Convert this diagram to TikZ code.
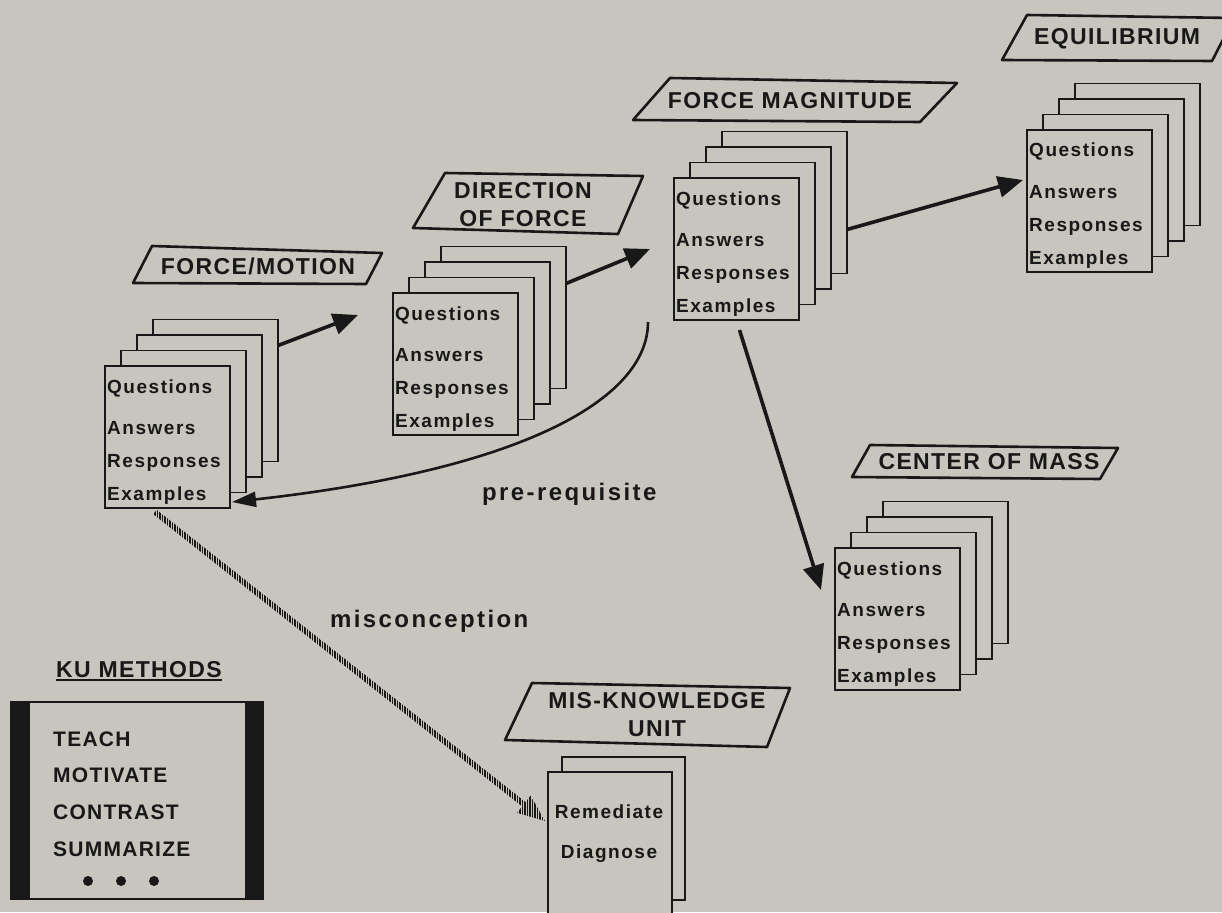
\documentclass[tikz,border=0pt]{standalone}
\usepackage{fontspec}
\setmainfont{Liberation Sans}
\usetikzlibrary{arrows.meta,calc,patterns.meta}
\definecolor{bg}{RGB}{199,197,189}
\definecolor{ink}{RGB}{24,24,24}
\newcommand\cardfont{\bfseries\fontsize{19}{22}\selectfont\addfontfeature{LetterSpace=8}}
\newcommand\labfont{\bfseries\fontsize{23}{30}\selectfont\addfontfeature{LetterSpace=6}}
\newcommand\kufont{\bfseries\fontsize{21}{26}\selectfont\addfontfeature{LetterSpace=6}}
\newcommand\relfont{\bfseries\fontsize{24}{28}\selectfont\addfontfeature{LetterSpace=10}}
\newcommand\kustack[3]{%
  \foreach \k in {3,2,1,0}{\node[card,anchor=north west] (#1-\k) at ({#2+16*\k},{#3-15.5*\k}) {};}
  \node[cardtext] (#1-q) at ({#2+2},{#3+27}) {Questions};
  \node[cardtext] (#1-a) at ({#2+2},{#3+68}) {Answers};
  \node[cardtext] (#1-r) at ({#2+2},{#3+101}) {Responses};
  \node[cardtext] (#1-e) at ({#2+2},{#3+134}) {Examples};
}
\begin{document}
\begin{tikzpicture}[x=1pt,y=-1pt,
  card/.style={draw=ink,fill=bg,line width=1.9pt,minimum width=125pt,minimum height=142pt,inner sep=0pt,outer sep=0pt},
  cardtext/.style={anchor=base west,inner sep=0pt,text=ink,font=\cardfont},
  lab/.style={draw=ink,line width=2.6pt,line join=round},
  labtext/.style={inner sep=0pt,text=ink,font=\labfont,align=center},
  kutext/.style={anchor=base west,inner sep=0pt,text=ink,font=\kufont},
  reltext/.style={anchor=base west,inner sep=0pt,text=ink,font=\relfont},
  arr/.style={draw=ink,line width=3.6pt,-{Triangle[length=25pt,width=21pt]}},
  arrc/.style={draw=ink,line width=2.6pt,-{Triangle[length=24pt,width=15pt]}},
  dot/.style={circle,fill=ink,inner sep=0pt,minimum size=10pt},
  hatch/.style={pattern={Lines[angle=90,distance=2.5pt,line width=1.4pt]},pattern color=ink}
]
\useasboundingbox (0,0) rectangle (1222,912);
\clip (0,0) rectangle (1222,912);
\fill[bg] (0,0) rectangle (1222,912);

% ---------- card stacks ----------
\kustack{fm}{105}{366}
\kustack{df}{393}{293}
\kustack{mg}{674}{178}
\kustack{eq}{1027}{130}
\kustack{cm}{835}{548}

% mis-knowledge unit cards
\node[card,anchor=north west,minimum width=123pt,minimum height=143pt] (mk-1) at (562,757) {};
\node[card,anchor=north west,minimum width=124pt,minimum height=170pt] (mk-0) at (548,772) {};
\node[anchor=base,inner sep=0pt,text=ink,font=\cardfont] (mk-r) at (609,818) {Remediate};
\node[anchor=base,inner sep=0pt,text=ink,font=\cardfont] (mk-d) at (609,858) {Diagnose};

% ---------- labels ----------
\draw[lab] (152,246) -- (382,253) -- (366,284) -- (133,283) -- cycle;
\node[labtext] (l-fm) at (258,266) {FORCE/MOTION};
\draw[lab] (445,173) -- (643,176) -- (618,234) -- (413,228) -- cycle;
\node[labtext] (l-df) at (523,205) {DIRECTION\\[-2pt]OF FORCE};
\draw[lab] (670,78) -- (957,83) -- (920,122) -- (633,120) -- cycle;
\node[labtext] (l-mg) at (790,101) {FORCE MAGNITUDE};
\draw[lab] (1027,15) -- (1234,18) -- (1212,61) -- (1002,60) -- cycle;
\node[labtext] (l-eq) at (1117,39) {EQUILIBRIUM};
\draw[lab] (870,445) -- (1118,448) -- (1100,479) -- (852,477) -- cycle;
\node[labtext] (l-cm) at (989,462) {CENTER OF MASS};
\draw[lab] (532,683) -- (790,688) -- (767,747) -- (505,740) -- cycle;
\node[labtext] (l-mk) at (657,715) {MIS-KNOWLEDGE\\[-2pt]UNIT};

% ---------- connectors ----------
\coordinate (t1) at (358,315);
\draw[arr] ($(fm-3.north east)+(0,26)$) -- (t1);
\coordinate (t2) at (650,249);
\draw[arr] ($(df-3.north east)+(0,37)$) -- (t2);
\coordinate (t3) at (1023,180);
\draw[arr] ($(mg-3.north east)+(0,98)$) -- (t3);
\coordinate (t4) at (821,590);
\draw[arr] ($(mg-0.south)+(3,10)$) -- (t4);

\coordinate (ps) at (648,322);
\draw[arrc] (ps) .. controls (648,400) and (520,470) .. ($(fm-0.south east)+(2,-6)$);
\node[reltext] (pre) at (482,500) {pre-requisite};

% misconception hatched connector
\coordinate (ms) at ($(fm-0.south west)+(50,4)$);
\coordinate (me) at ($(mk-0.north west)+(-3,49)$);
\coordinate (mb) at ($(me)!27pt!(ms)$);
\fill[hatch] ($(ms)!2.8pt!90:(mb)$) -- ($(mb)!2.8pt!-90:(ms)$) -- ($(mb)!2.8pt!90:(ms)$) -- ($(ms)!2.8pt!-90:(mb)$) -- cycle;
\fill[hatch] (me) -- ($(mb)!11pt!90:(me)$) -- ($(mb)!11pt!-90:(me)$) -- cycle;
\node[reltext] (mis) at (330,627) {misconception};

% ---------- KU methods ----------
\node[anchor=base,inner sep=0pt,text=ink,font=\labfont] (kut) at (139,677) {KU METHODS};
\draw[ink,line width=1.8pt] ($(kut.base west)+(0,3)$) -- ($(kut.base east)+(0,3)$);
\node[draw=ink,line width=2pt,minimum width=252pt,minimum height=197pt,inner sep=0pt,anchor=north west] (kubox) at (10,701) {};
\fill[ink] (kubox.north west) rectangle ($(kubox.south west)+(20,0)$);
\fill[ink] ($(kubox.north east)+(-19,0)$) rectangle (kubox.south east);
\node[kutext] (m1) at (53,746) {TEACH};
\node[kutext] (m2) at (53,782) {MOTIVATE};
\node[kutext] (m3) at (53,819) {CONTRAST};
\node[kutext] (m4) at (53,856) {SUMMARIZE};
\node[dot] (d1) at (88,881) {};
\node[dot] (d2) at (121,881) {};
\node[dot] (d3) at (154,881) {};
\end{tikzpicture}
\end{document}
